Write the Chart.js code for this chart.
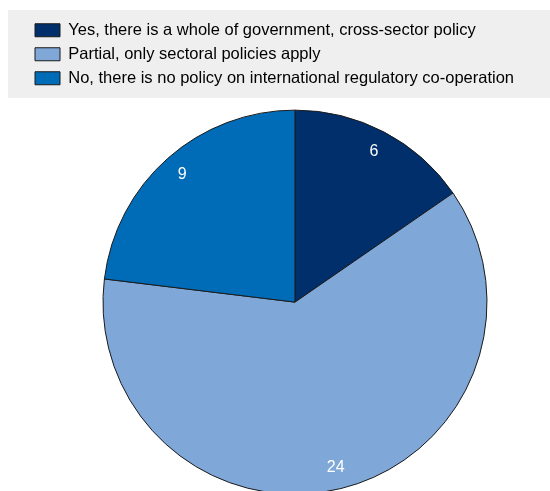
<!DOCTYPE html>
<html>
<head>
<meta charset="utf-8">
<script src="https://cdn.jsdelivr.net/npm/chart.js@4.4.1/dist/chart.umd.min.js"></script>
<style>
  html, body { margin: 0; padding: 0; background: #fff; }
  #wrap { width: 550px; height: 491px; }
</style>
</head>
<body>
<div id="wrap"><canvas id="pieChart"></canvas></div>
<script>
// Chart data
const categories = [
    'Yes, there is a whole of government, cross-sector policy',
    'Partial, only sectoral policies apply',
    'No, there is no policy on international regulatory co-operation'
];
const counts = [6, 24, 9];
const sliceColors = ['#002F6C', '#7FA8D9', '#006BB6'];

const FONT = "'Liberation Sans', Arial, sans-serif";

// Grey band behind the legend + extra room under it
const legendBand = {
    id: 'legendBand',
    beforeInit(chart) {
        const origFit = chart.legend.fit;
        chart.legend.fit = function() {
            origFit.bind(chart.legend)();
            this.height += 16.75;
        };
    },
    afterLayout(chart) {
        // pull the legend left, the pie stays centred at x=295
        chart.legend.left = 27.5;
    },
    beforeDraw(chart) {
        const ctx = chart.ctx;
        ctx.save();
        ctx.fillStyle = '#EFEFEF';
        ctx.fillRect(8, 10, chart.width - 8, 88);
        ctx.restore();
    }
};

// Value labels inside each slice
const sliceLabels = {
    id: 'sliceLabels',
    afterDatasetsDraw(chart) {
        const ctx = chart.ctx;
        const meta = chart.getDatasetMeta(0);
        ctx.save();
        ctx.fillStyle = '#fff';
        ctx.font = '16px ' + FONT;
        ctx.textAlign = 'center';
        ctx.textBaseline = 'middle';
        meta.data.forEach((arc, i) => {
            const p = arc.getProps(['x', 'y', 'startAngle', 'endAngle', 'outerRadius'], true);
            const mid = (p.startAngle + p.endAngle) / 2;
            const r = p.outerRadius * 0.885;
            ctx.fillText(String(counts[i]), p.x + Math.cos(mid) * r, p.y + Math.sin(mid) * r);
        });
        ctx.restore();
    }
};

new Chart(document.getElementById('pieChart'), {
    type: 'pie',
    data: {
        labels: categories,
        datasets: [{
            data: counts,
            backgroundColor: sliceColors,
            borderColor: '#1a1a1a',
            borderWidth: 1,
            radius: 192,
            clip: false
        }]
    },
    options: {
        responsive: true,
        maintainAspectRatio: false,
        animation: false,
        layout: {
            padding: { top: 14.5, left: 40, right: 0, bottom: 0 }
        },
        plugins: {
            legend: {
                position: 'top',
                align: 'start',
                labels: {
                    boxWidth: 25,
                    boxHeight: 13,
                    padding: 7.5,
                    color: '#000',
                    font: { size: 16.5, family: FONT },
                    generateLabels(chart) {
                        return categories.map((c, i) => ({
                            text: c,
                            fillStyle: sliceColors[i],
                            strokeStyle: '#1a1a1a',
                            lineWidth: 1,
                            index: i
                        }));
                    }
                }
            },
            tooltip: { enabled: false }
        }
    },
    plugins: [legendBand, sliceLabels]
});
</script>
</body>
</html>
